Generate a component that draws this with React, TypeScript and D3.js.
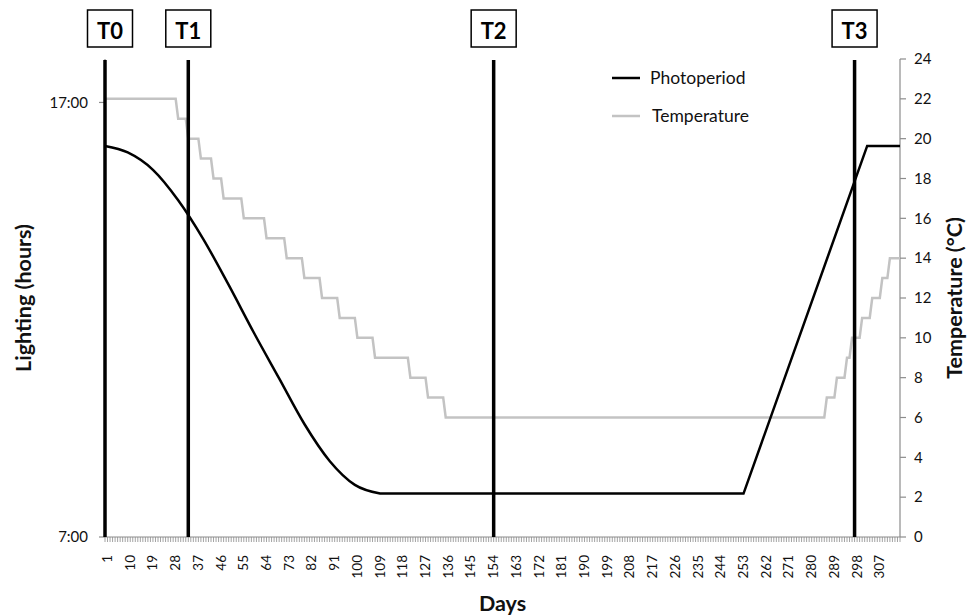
import * as d3 from 'd3';

// Days shown on the category axis
const firstDay = 1;
const lastDay = 316;
const dayLabels = d3.range(1, 310, 9);

// Sampling points (T0..T3)
const samplingNames = ['T0', 'T1', 'T2', 'T3'];
const samplingDays = [1, 34, 155, 298];

const photoDeclineDays = [1, 10, 20, 30, 40, 50, 60, 70, 80, 90, 100, 110];
const photoDeclineHours = [16.0, 15.85, 15.45, 14.75, 13.85, 12.8, 11.7, 10.65, 9.6, 8.75, 8.2, 8.0];
const photoRampDays = [110, 254, 303, 316];
const photoRampHours = [8.0, 8.0, 16.0, 16.0];

// Temperature (°C) – day each step starts, and its value
const tempStepDays = [1, 30, 34, 39, 44, 48, 56, 65, 73, 80, 87, 94, 101, 108, 122, 129, 136, 287, 291, 295, 297, 301, 305, 309, 312];
const tempStepValues = [22, 21, 20, 19, 18, 17, 16, 15, 14, 13, 12, 11, 10, 9, 8, 7, 6, 7, 8, 9, 10, 11, 12, 13, 14];

const lightTicks = [7, 17];
const tempTicks = d3.range(0, 25, 2);

const W = 968;
const H = 616;
const plot = { left: 105, right: 900, top: 59, bottom: 537 };
const font = 'Lato, "Open Sans", sans-serif';
const axisGrey = '#8c8c8c';
const tempGrey = '#c3c3c3';
const titleSize = 21.5;

export default function App() {
  const x = d3.scaleLinear().domain([firstDay, lastDay]).range([plot.left, plot.right]);
  const yLight = d3.scaleLinear().domain([7, 18]).range([plot.bottom, plot.top]);
  const yTemp = d3.scaleLinear().domain([0, 24]).range([plot.bottom, plot.top]);

  const declinePts: [number, number][] = photoDeclineDays.map((d, i) => [d, photoDeclineHours[i]]);
  const rampPts: [number, number][] = photoRampDays.map((d, i) => [d, photoRampHours[i]]);
  const lightCurve = d3
    .line<[number, number]>()
    .x((p) => x(p[0]))
    .y((p) => yLight(p[1]))
    .curve(d3.curveMonotoneX);
  const lightLinear = d3
    .line<[number, number]>()
    .x((p) => x(p[0]))
    .y((p) => yLight(p[1]));
  const photoPath = (lightCurve(declinePts) || '') + (lightLinear(rampPts) || '').replace(/^M/, 'L');

  // each step is held from its start day until the day before the next step
  const tempPts: [number, number][] = [];
  tempStepDays.forEach((d, i) => {
    const end = i < tempStepDays.length - 1 ? tempStepDays[i + 1] - 1 : lastDay;
    tempPts.push([d, tempStepValues[i]]);
    tempPts.push([end, tempStepValues[i]]);
  });
  const tempPath =
    d3
      .line<[number, number]>()
      .x((p) => x(p[0]))
      .y((p) => yTemp(p[1]))(tempPts) || '';

  const dayTicks = d3.range(firstDay, lastDay + 1);

  return (
    <svg
      width={W}
      height={H}
      style={{ position: 'absolute', left: 0, top: 0, background: '#fff' }}
      fontFamily={font}
    >
      {/* x axis */}
      <line x1={plot.left} x2={plot.right} y1={plot.bottom} y2={plot.bottom} stroke={axisGrey} strokeWidth={1.2} />
      {dayTicks.map((d) => (
        <line key={d} x1={x(d)} x2={x(d)} y1={plot.bottom} y2={plot.bottom + 5} stroke={axisGrey} strokeWidth={0.8} />
      ))}
      {dayLabels.map((d) => (
        <text
          key={d}
          transform={`translate(${x(d) + 7},555) rotate(-90)`}
          textAnchor="end"
          fontSize={13.5}
          fill="#111"
        >
          {d}
        </text>
      ))}
      <text x={(plot.left + plot.right) / 2} y={611} textAnchor="middle" fontSize={titleSize} fontWeight="bold" fill="#111">
        Days
      </text>

      {/* left axis */}
      <line x1={plot.left} x2={plot.left} y1={plot.top} y2={plot.bottom} stroke={axisGrey} strokeWidth={1.2} />
      {lightTicks.map((t) => (
        <g key={t}>
          <line x1={plot.left - 6} x2={plot.left} y1={yLight(t)} y2={yLight(t)} stroke={axisGrey} strokeWidth={1.2} />
          <text x={88} y={yLight(t)} dy="0.35em" textAnchor="end" fontSize={15} fill="#111">
            {`${t}:00`}
          </text>
        </g>
      ))}
      <text transform={`translate(31,${(plot.top + plot.bottom) / 2}) rotate(-90)`} textAnchor="middle" fontSize={titleSize} fontWeight="bold" fill="#111">
        Lighting (hours)
      </text>

      {/* right axis */}
      <line x1={plot.right} x2={plot.right} y1={plot.top} y2={plot.bottom} stroke={axisGrey} strokeWidth={1.2} />
      {tempTicks.map((t) => (
        <g key={t}>
          <line x1={plot.right} x2={plot.right + 6} y1={yTemp(t)} y2={yTemp(t)} stroke={axisGrey} strokeWidth={1.2} />
          <text x={914} y={yTemp(t)} dy="0.35em" fontSize={15} fill="#111">
            {t}
          </text>
        </g>
      ))}
      <text transform={`translate(962,${(plot.top + plot.bottom) / 2}) rotate(-90)`} textAnchor="middle" fontSize={titleSize} fontWeight="bold" fill="#111">
        Temperature (°C)
      </text>

      {/* series */}
      <path d={tempPath} fill="none" stroke={tempGrey} strokeWidth={2.5} />
      <path d={photoPath} fill="none" stroke="#000" strokeWidth={2.5} />

      {/* sampling points */}
      {samplingDays.map((d, i) => {
        const cx = x(d) + (i === 0 ? 5 : 0);
        return (
          <g key={samplingNames[i]}>
            <line x1={x(d)} x2={x(d)} y1={plot.top + 1} y2={plot.bottom} stroke="#000" strokeWidth={3.5} />
            <rect x={cx - 22.5} y={10} width={45} height={37} fill="#fff" stroke="#000" strokeWidth={1.5} />
            <text x={cx} y={39} textAnchor="middle" fontSize={22} fontWeight="bold" fill="#000">
              {samplingNames[i]}
            </text>
          </g>
        );
      })}

      {/* legend */}
      <line x1={612} x2={640} y1={78} y2={78} stroke="#000" strokeWidth={2.5} />
      <text x={650} y={78} dy="0.35em" fontSize={17.5} fill="#111">
        Photoperiod
      </text>
      <line x1={612} x2={640} y1={116} y2={116} stroke={tempGrey} strokeWidth={2.5} />
      <text x={652} y={116} dy="0.35em" fontSize={17.5} fill="#111">
        Temperature
      </text>
    </svg>
  );
}
